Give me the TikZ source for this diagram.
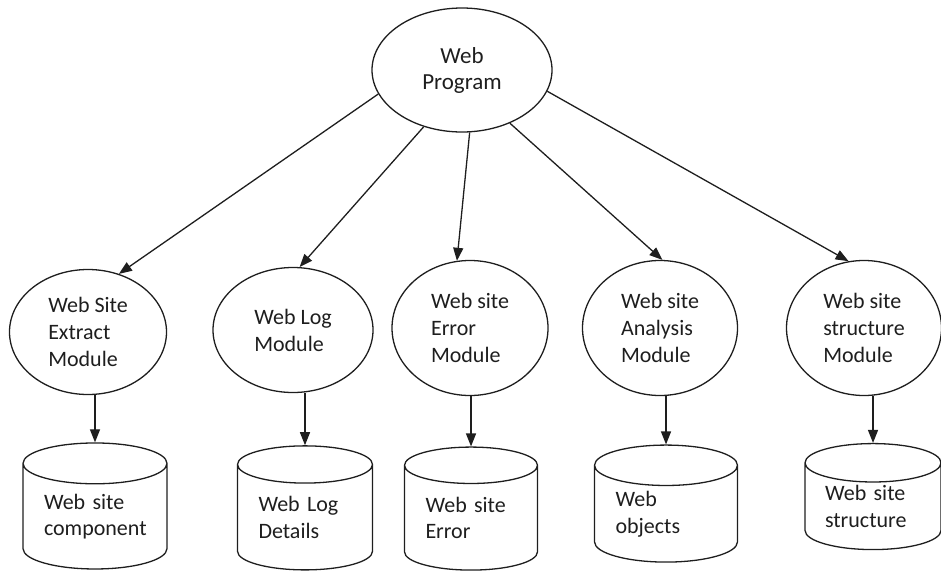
\documentclass[tikz,border=0pt]{standalone}
\usepackage{fontspec}
\setmainfont{Carlito}
\usetikzlibrary{shapes.geometric}
\usetikzlibrary{arrows.meta}
\tikzset{>={Triangle[width=10pt,length=13pt]}}
\definecolor{ink}{HTML}{1E1E1E}
\tikzset{
  topnode/.style={ellipse, draw=ink, line width=1.3pt, inner sep=0pt,
    align=center, text=ink, font=\fontsize{23}{26}\selectfont},
  modnode/.style={ellipse, draw=ink, line width=1.3pt, inner sep=0pt,
    align=left, text=ink, font=\fontsize{22}{27}\selectfont},
  dbnode/.style={cylinder, shape border rotate=90, aspect=0.4, draw=ink,
    line width=1.3pt, inner sep=0pt, align=left, text=ink,
    font=\fontsize{22}{26.5}\selectfont},
  link/.style={->, line width=1.3pt, draw=ink}
}

\begin{document}
\begin{tikzpicture}[x=1pt,y=-1pt]
  \useasboundingbox (0,0) rectangle (941,581);

  \node[topnode, minimum width=180pt, minimum height=124pt] (web) at (462,70) {Web\\Program};

  %% modules
  \node[modnode, minimum width=157pt, minimum height=125pt] (mod1) at (88,332) {Web Site\\Extract\\Module};
  \node[modnode, minimum width=160pt, minimum height=125pt] (mod2) at (293,330) {Web Log\\Module};
  \node[modnode, minimum width=156pt, minimum height=135pt] (mod3) at (470,328) {Web site\\Error\\Module};
  \node[modnode, minimum width=155pt, minimum height=135pt] (mod4) at (660,328) {Web site\\Analysis\\Module};
  \node[modnode, minimum width=155pt, minimum height=135pt] (mod5) at (864,328) {Web site\\structure\\Module};

  %% stores
  \node[dbnode, text width=102pt, minimum width=144pt, minimum height=126pt] (db1) at (95,516.5) {Web site\\component};
  \node[dbnode, text width=93pt, minimum width=135pt, minimum height=124pt] (db2) at (305,517.5) {Web Log\\Details};
  \node[dbnode, text width=91pt, minimum width=133pt, minimum height=123pt] (db3) at (471,518) {Web site\\Error};
  \node[dbnode, text width=101pt, minimum width=143pt, minimum height=117pt] (db4) at (666,514) {Web\\objects};
  \node[dbnode, text width=96pt, minimum width=136pt, minimum height=106pt] (db5) at (873,506.5) {Web site\\structure};

  \draw[link] (web.196) -- (mod1.62);  %% web -> extract
  \draw[link] (web.236) -- (mod2.84);  %% web -> log
  \draw[link] (web.277) -- (mod3.101); %% web -> error
  \draw[link] (web.312) -- (mod4.88);  %% web -> analysis
  \draw[link] (web.346) -- (mod5.103); %% web -> structure

  \foreach \i in {1,...,5}
    \draw[link] (db\i.north |- mod\i.south) -- (db\i.north);

\end{tikzpicture}
\end{document}
